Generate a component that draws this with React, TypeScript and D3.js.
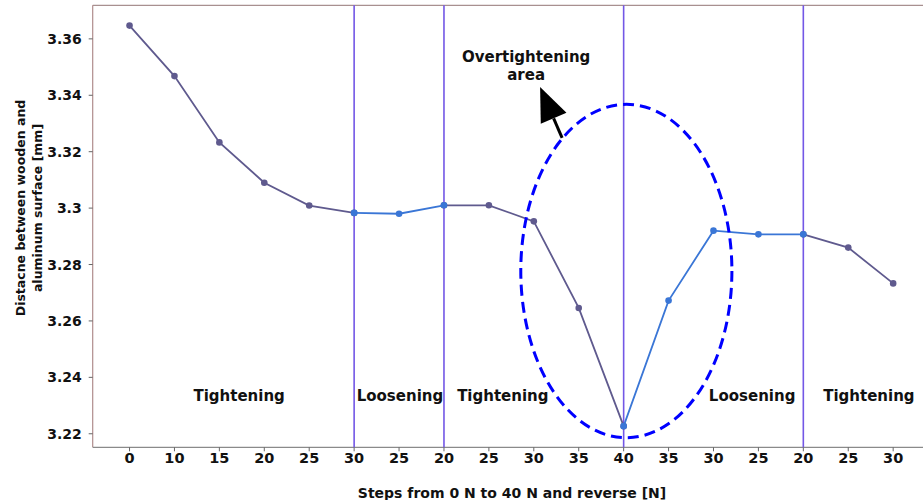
import React from "react";
import * as d3 from "d3";

const W = 923;
const H = 500;

// x tick labels (force steps, 0 -> 40 -> back)
const stepLabels = ["0", "10", "15", "20", "25", "30", "25", "20", "25", "30", "35", "40", "35", "30", "25", "20", "25", "30"];
// measured distance [mm]
const distance = [3.3647, 3.3468, 3.3233, 3.309, 3.3009, 3.2983, 3.298, 3.301, 3.301, 3.2953, 3.2646, 3.2227, 3.2672, 3.292, 3.2907, 3.2907, 3.286, 3.2733];
// segments: [start index, end index]
const tighteningSegs = [[0, 5], [7, 11], [15, 17]];
const looseningSegs = [[5, 7], [11, 15]];
// vertical separators (index positions)
const turnPoints = [5, 7, 11, 15];
const yTicks = [3.22, 3.24, 3.26, 3.28, 3.3, 3.32, 3.34, 3.36];
const yTickLabels = ["3.22", "3.24", "3.26", "3.28", "3.3", "3.32", "3.34", "3.36"];
// region labels
const regionNames = ["Tightening", "Loosening", "Tightening", "Loosening", "Tightening"];
const regionPos = [2.44, 6.02, 8.31, 13.86, 16.46];
const regionY = 3.2334;

// overtightening ellipse + arrow (data coords)
const ellipse = { cx: 11.06, cy: 3.2777, rx: 2.35, ry: 0.0591 };
const arrowTail = [9.63, 3.3249];
const arrowTip = [9.14, 3.3429];
const noteLines = ["Overtightening", "area"];
const notePos = [8.83, 3.3536];

const TIGHT = "#5f5a8e";
const LOOSE = "#3a76d6";
const SEP = "#7357e6";
const FONT = "DejaVu Sans, sans-serif";

export default function App() {
  const x = d3.scaleLinear().domain([-0.82, 17.82]).range([92.7, 930]);
  const y = d3.scaleLinear().domain([3.2152, 3.3719]).range([447.3, 5.3]);
  const top = y.range()[1];
  const bottom = y.range()[0];
  const left = x.range()[0];

  const line = d3
    .line<number>()
    .x((i) => x(i))
    .y((i) => y(distance[i]));

  const seg = (s: number[]) => d3.range(s[0], s[1] + 1);

  // arrow geometry
  const tx = x(arrowTail[0]), ty = y(arrowTail[1]);
  const hx = x(arrowTip[0]), hy = y(arrowTip[1]);
  const len = Math.hypot(hx - tx, hy - ty);
  const ux = (hx - tx) / len, uy = (hy - ty) / len;
  const headLen = 34, headW = 14;
  const bx = hx - ux * headLen, by = hy - uy * headLen;
  const px = -uy, py = ux;
  const head = `M${hx},${hy}L${bx + px * headW},${by + py * headW}L${bx - px * headW},${by - py * headW}Z`;

  return (
    <svg width={W} height={H} style={{ position: "absolute", left: 0, top: 0, background: "#fff" }} fontFamily={FONT} fontWeight="bold">
      {/* spines */}
      <line x1={left} x2={W} y1={top} y2={top} stroke="#a89090" strokeWidth={1.2} />
      <line x1={left} x2={left} y1={top} y2={bottom} stroke="#b08c8c" strokeWidth={1.2} />
      <line x1={left} x2={W} y1={bottom} y2={bottom} stroke="#8a8a8a" strokeWidth={1.2} />

      {/* y ticks */}
      {yTicks.map((t, i) => (
        <g key={"y" + i}>
          <line x1={left - 4} x2={left} y1={y(t)} y2={y(t)} stroke="#666" strokeWidth={1} />
          <text x={left - 11} y={y(t)} dy="0.36em" textAnchor="end" fontSize={14} fill="#111">
            {yTickLabels[i]}
          </text>
        </g>
      ))}
      {/* x ticks */}
      {stepLabels.map((l, i) => (
        <g key={"x" + i}>
          <line x1={x(i)} x2={x(i)} y1={bottom} y2={bottom + 4} stroke="#666" strokeWidth={1} />
          <text x={x(i)} y={bottom + 16} textAnchor="middle" fontSize={14.5} fill="#111">
            {l}
          </text>
        </g>
      ))}

      {/* separators */}
      {turnPoints.map((p) => (
        <line key={"v" + p} x1={x(p)} x2={x(p)} y1={top} y2={bottom} stroke={SEP} strokeWidth={1.6} />
      ))}

      {/* data */}
      {tighteningSegs.map((s, k) => (
        <g key={"t" + k}>
          <path d={line(seg(s)) || ""} fill="none" stroke={TIGHT} strokeWidth={1.8} />
          {seg(s).map((i) => (
            <circle key={i} cx={x(i)} cy={y(distance[i])} r={3.3} fill={TIGHT} />
          ))}
        </g>
      ))}
      {looseningSegs.map((s, k) => (
        <g key={"l" + k}>
          <path d={line(seg(s)) || ""} fill="none" stroke={LOOSE} strokeWidth={1.8} />
          {seg(s).map((i) => (
            <circle key={i} cx={x(i)} cy={y(distance[i])} r={3.3} fill={LOOSE} />
          ))}
        </g>
      ))}

      {/* region labels */}
      {regionNames.map((n, i) => (
        <text key={"r" + i} x={x(regionPos[i])} y={y(regionY)} dy="0.36em" textAnchor="middle" fontSize={15} fill="#111">
          {n}
        </text>
      ))}

      {/* overtightening ellipse */}
      <ellipse
        cx={x(ellipse.cx)}
        cy={y(ellipse.cy)}
        rx={x(ellipse.cx + ellipse.rx) - x(ellipse.cx)}
        ry={y(ellipse.cy - ellipse.ry) - y(ellipse.cy)}
        fill="none"
        stroke="#0000ff"
        strokeWidth={3}
        strokeDasharray="11,6"
      />
      <line x1={tx} y1={ty} x2={bx} y2={by} stroke="#000" strokeWidth={3} />
      <path d={head} fill="#000" />
      {noteLines.map((l, i) => (
        <text key={"n" + i} x={x(notePos[0])} y={y(notePos[1]) + i * 18} dy="0.36em" textAnchor="middle" fontSize={15} fill="#111">
          {l}
        </text>
      ))}

      {/* axis titles */}
      <text x={512} y={492.5} dy="0.36em" textAnchor="middle" fontSize={14} fill="#111">
        Steps from 0 N to 40 N and reverse [N]
      </text>
      <text transform="translate(20,208) rotate(-90)" textAnchor="middle" dy="0.36em" fontSize={12.5} fill="#111">
        Distacne between wooden and
      </text>
      <text transform="translate(37,208) rotate(-90)" textAnchor="middle" dy="0.36em" fontSize={12.5} fill="#111">
        aluminum surface [mm]
      </text>
    </svg>
  );
}
